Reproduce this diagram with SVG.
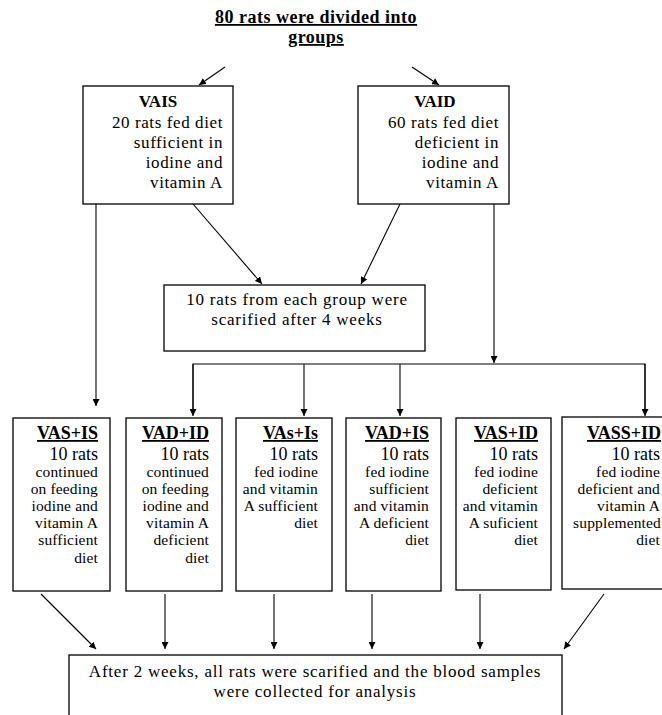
<svg xmlns="http://www.w3.org/2000/svg" width="662" height="715" viewBox="0 0 662 715" font-family="'Liberation Serif', 'Times New Roman', serif">
<defs>
<marker id="ah" viewBox="0 0 10 10" refX="10" refY="5" markerWidth="7" markerHeight="7" markerUnits="userSpaceOnUse" orient="auto">
<path d="M0,0 L10,5 L0,10 z" fill="#000"/>
</marker>
<style>
.box{fill:#fff;stroke:#000;stroke-width:1.3}
text{font-family:'Liberation Serif','Times New Roman',serif;fill:#000}
.tt{font-size:18px;font-weight:bold;letter-spacing:0.5px;text-decoration:underline}
.h{font-size:17px;font-weight:bold}
.hb{font-size:18px;font-weight:bold;text-decoration:underline}
.n{font-size:18px}
.v{font-size:17px;letter-spacing:0.6px}
.b{font-size:17px;letter-spacing:0.78px}
.s{font-size:15.5px;letter-spacing:0.15px}
.r{text-anchor:end}
.c{text-anchor:middle}
.ln{stroke:#000;stroke-width:1.1;fill:none}
.ar{marker-end:url(#ah)}
</style>
</defs>
<rect width="662" height="715" fill="#fff"/>
<g id="title">
<text class="tt c" x="316" y="23">80 rats were divided into</text>
<text class="tt c" x="316" y="43">groups</text>
</g>
<g id="connectors">
<line class="ln ar" x1="225" y1="67" x2="199" y2="85"/>
<line class="ln ar" x1="412" y1="67" x2="439" y2="85"/>
<line class="ln ar" x1="96" y1="204" x2="96" y2="406"/>
<line class="ln ar" x1="193" y1="204" x2="262" y2="284"/>
<line class="ln ar" x1="400" y1="204" x2="361" y2="284"/>
<line class="ln ar" x1="494" y1="204" x2="494" y2="363"/>
<polyline class="ln" points="193,415 193,364 645,364 645,415"/>
<line class="ln ar" x1="193" y1="364" x2="193" y2="416"/>
<line class="ln ar" x1="304" y1="364" x2="304" y2="416"/>
<line class="ln ar" x1="400" y1="364" x2="400" y2="416"/>
<line class="ln ar" x1="645" y1="364" x2="645" y2="416"/>
<line class="ln ar" x1="41" y1="594" x2="96" y2="649"/>
<line class="ln ar" x1="165" y1="594" x2="165" y2="649"/>
<line class="ln ar" x1="274" y1="594" x2="274" y2="649"/>
<line class="ln ar" x1="372" y1="594" x2="372" y2="649"/>
<line class="ln ar" x1="480" y1="594" x2="480" y2="649"/>
<line class="ln ar" x1="604" y1="594" x2="564" y2="649"/>
</g>
<g id="vais">
<rect class="box" x="83" y="86" width="150" height="118"/>
<text class="h c" x="158" y="107">VAIS</text>
<text class="v r" x="223" y="128">20 rats fed diet</text>
<text class="v r" x="223" y="148">sufficient in</text>
<text class="v r" x="223" y="168">iodine and</text>
<text class="v r" x="223" y="188">vitamin A</text>
</g>
<g id="vaid">
<rect class="box" x="358" y="86" width="151" height="118"/>
<text class="h c" x="435" y="107">VAID</text>
<text class="v r" x="499" y="128">60 rats fed diet</text>
<text class="v r" x="499" y="148">deficient in</text>
<text class="v r" x="499" y="168">iodine and</text>
<text class="v r" x="499" y="188">vitamin A</text>
</g>
<g id="scarified4">
<rect class="box" x="164" y="285" width="261" height="66"/>
<text class="b c" x="297" y="305">10 rats from each group were</text>
<text class="b c" x="297" y="325">scarified after 4 weeks</text>
</g>
<g id="vas-is">
<rect class="box" x="13" y="418" width="97" height="173"/>
<text class="hb r" x="98" y="439">VAS+IS</text>
<text class="n r" x="98" y="460">10 rats</text>
<text class="s r" x="98" y="477">continued</text>
<text class="s r" x="98" y="494">on feeding</text>
<text class="s r" x="98" y="511">iodine and</text>
<text class="s r" x="98" y="528">vitamin A</text>
<text class="s r" x="98" y="545">sufficient</text>
<text class="s r" x="98" y="563">diet</text>
</g>
<g id="vad-id">
<rect class="box" x="126" y="418" width="96" height="173"/>
<text class="hb r" x="209" y="439">VAD+ID</text>
<text class="n r" x="209" y="460">10 rats</text>
<text class="s r" x="209" y="477">continued</text>
<text class="s r" x="209" y="494">on feeding</text>
<text class="s r" x="209" y="511">iodine and</text>
<text class="s r" x="209" y="528">vitamin A</text>
<text class="s r" x="209" y="545">deficient</text>
<text class="s r" x="209" y="563">diet</text>
</g>
<g id="vas-is2">
<rect class="box" x="236" y="418" width="96" height="173"/>
<text class="hb r" x="318" y="439">VAs+Is</text>
<text class="n r" x="318" y="460">10 rats</text>
<text class="s r" x="318" y="477">fed iodine</text>
<text class="s r" x="318" y="494">and vitamin</text>
<text class="s r" x="318" y="511">A sufficient</text>
<text class="s r" x="318" y="528">diet</text>
</g>
<g id="vad-is">
<rect class="box" x="346" y="418" width="95" height="173"/>
<text class="hb r" x="429" y="439">VAD+IS</text>
<text class="n r" x="429" y="460">10 rats</text>
<text class="s r" x="429" y="477">fed iodine</text>
<text class="s r" x="429" y="494">sufficient</text>
<text class="s r" x="429" y="511">and vitamin</text>
<text class="s r" x="429" y="528">A deficient</text>
<text class="s r" x="429" y="545">diet</text>
</g>
<g id="vas-id">
<rect class="box" x="456" y="418" width="95" height="172"/>
<text class="hb r" x="538" y="439">VAS+ID</text>
<text class="n r" x="538" y="460">10 rats</text>
<text class="s r" x="538" y="477">fed iodine</text>
<text class="s r" x="538" y="494">deficient</text>
<text class="s r" x="538" y="511">and vitamin</text>
<text class="s r" x="538" y="528">A suficient</text>
<text class="s r" x="538" y="545">diet</text>
</g>
<g id="vass-id">
<rect class="box" x="562" y="417" width="110" height="172"/>
<text class="hb r" x="661" y="439">VASS+ID</text>
<text class="n r" x="660" y="460">10 rats</text>
<text class="s r" x="660" y="477">fed iodine</text>
<text class="s r" x="660" y="494">deficient and</text>
<text class="s r" x="660" y="511">vitamin A</text>
<text class="s r" x="661" y="528">supplemented</text>
<text class="s r" x="660" y="545">diet</text>
</g>
<g id="final">
<rect class="box" x="69" y="655" width="493" height="70"/>
<text class="b c" x="315" y="677">After 2 weeks, all rats were scarified and the blood samples</text>
<text class="b c" x="315" y="697">were collected for analysis</text>
</g>
</svg>
